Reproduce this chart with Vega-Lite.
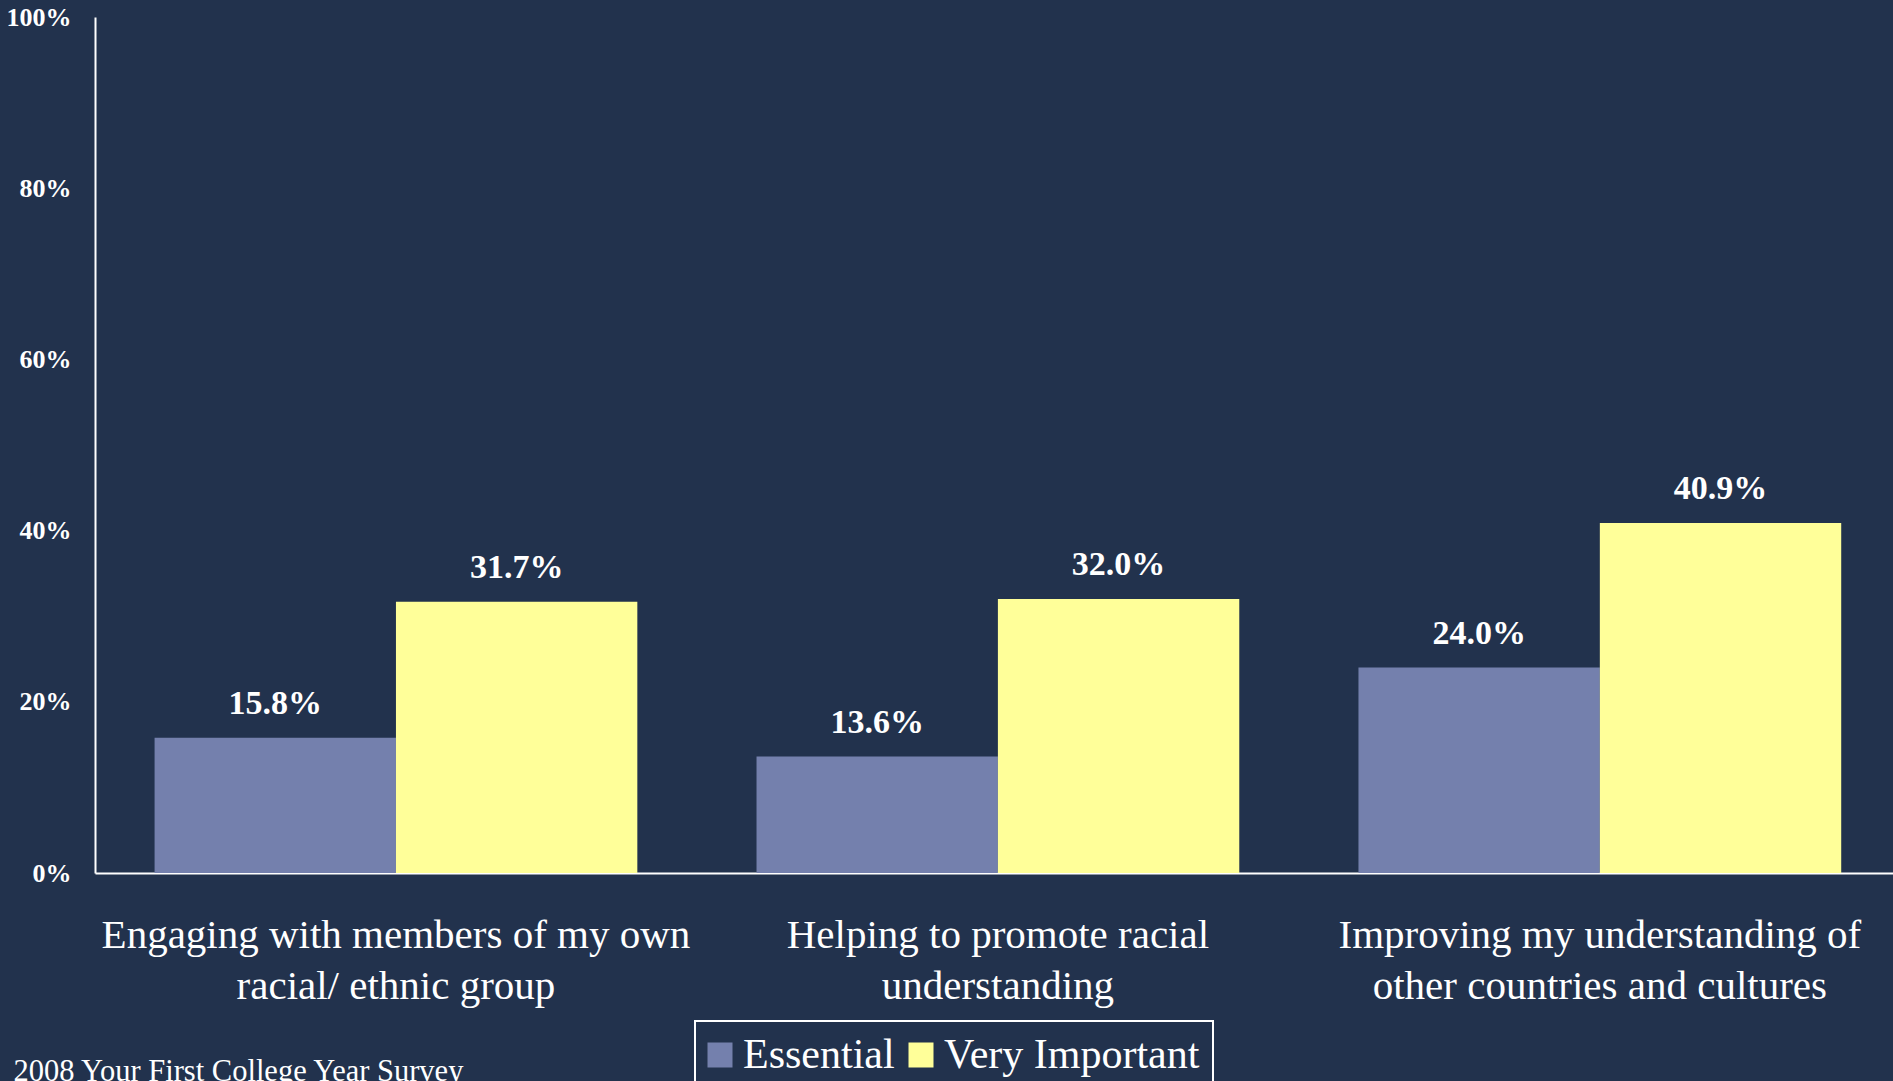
{
  "$schema": "https://vega.github.io/schema/vega-lite/v6.json",
  "autosize": "none",
  "width": 1798,
  "height": 856,
  "padding": {"left": 95, "top": 17, "right": 0, "bottom": 208},
  "background": "#22324D",
  "config": {
    "view": {"stroke": null},
    "font": "Liberation Serif"
  },
  "data": {
    "values": [
      {"item": "Engaging with members of my own racial/ ethnic group", "series": "Essential", "pct": 0.158},
      {"item": "Engaging with members of my own racial/ ethnic group", "series": "Very Important", "pct": 0.317},
      {"item": "Helping to promote racial understanding", "series": "Essential", "pct": 0.136},
      {"item": "Helping to promote racial understanding", "series": "Very Important", "pct": 0.320},
      {"item": "Improving my understanding of other countries and cultures", "series": "Essential", "pct": 0.240},
      {"item": "Improving my understanding of other countries and cultures", "series": "Very Important", "pct": 0.409}
    ]
  },
  "encoding": {
    "x": {
      "field": "item",
      "type": "nominal",
      "sort": null,
      "scale": {"paddingInner": 0.198, "paddingOuter": 0.0925, "align": 0.535},
      "axis": {
        "title": "2008 Your First College Year Survey",
        "titleX": -82,
        "titleY": 183,
        "titleAlign": "left",
        "titleAnchor": "start",
        "titleBaseline": "top",
        "titleFont": "Liberation Serif",
        "titleFontSize": 30.5,
        "titleFontWeight": "normal",
        "titleColor": "#FFFFFF",
        "labelAngle": 0,
        "labelFont": "Liberation Serif",
        "labelFontSize": 41,
        "labelFontWeight": "normal",
        "labelColor": "#FFFFFF",
        "labelLineHeight": 51,
        "labelPadding": 42,
        "labelLimit": 800,
        "labelExpr": "datum.label == 'Engaging with members of my own racial/ ethnic group' ? ['Engaging with members of my own', 'racial/ ethnic group'] : datum.label == 'Helping to promote racial understanding' ? ['Helping to promote racial', 'understanding'] : ['Improving my understanding of', 'other countries and cultures']",
        "ticks": false,
        "domainColor": "#FFFFFF",
        "domainWidth": 2,
        "grid": false
      }
    },
    "xOffset": {"field": "series", "type": "nominal", "sort": ["Essential", "Very Important"]},
    "y": {
      "field": "pct",
      "type": "quantitative",
      "scale": {"domain": [0, 1]},
      "axis": {
        "title": null,
        "values": [0, 0.2, 0.4, 0.6, 0.8, 1],
        "format": ".0%",
        "labelFont": "Liberation Serif",
        "labelFontSize": 26,
        "labelFontWeight": "bold",
        "labelColor": "#FFFFFF",
        "labelPadding": 24,
        "ticks": false,
        "grid": false,
        "domainColor": "#FFFFFF",
        "domainWidth": 2
      }
    }
  },
  "layer": [
    {
      "mark": {"type": "bar"},
      "encoding": {
        "color": {
          "field": "series",
          "type": "nominal",
          "scale": {"domain": ["Essential", "Very Important"], "range": ["#7480AD", "#FFFF99"]},
          "legend": {
            "title": null,
            "orient": "none",
            "direction": "horizontal",
            "legendX": 600,
            "legendY": 1004,
            "strokeColor": "#FFFFFF",
            "padding": 13,
            "symbolType": "square",
            "symbolSize": 625,
            "symbolStrokeWidth": 0,
            "symbolOpacity": 1,
            "symbolOffset": -9,
            "labelFont": "Liberation Serif",
            "labelFontSize": 42,
            "labelColor": "#FFFFFF",
            "labelOffset": 2,
            "labelLimit": 500,
            "columnPadding": 13,
            "encode": {"legend": {"update": {"strokeWidth": {"value": 2}}}}
          }
        }
      }
    },
    {
      "mark": {"type": "text", "baseline": "alphabetic", "dy": -24, "font": "Liberation Serif", "fontSize": 34, "fontWeight": "bold", "color": "#FFFFFF"},
      "encoding": {
        "text": {"field": "pct", "type": "quantitative", "format": ".1%"}
      }
    }
  ]
}
